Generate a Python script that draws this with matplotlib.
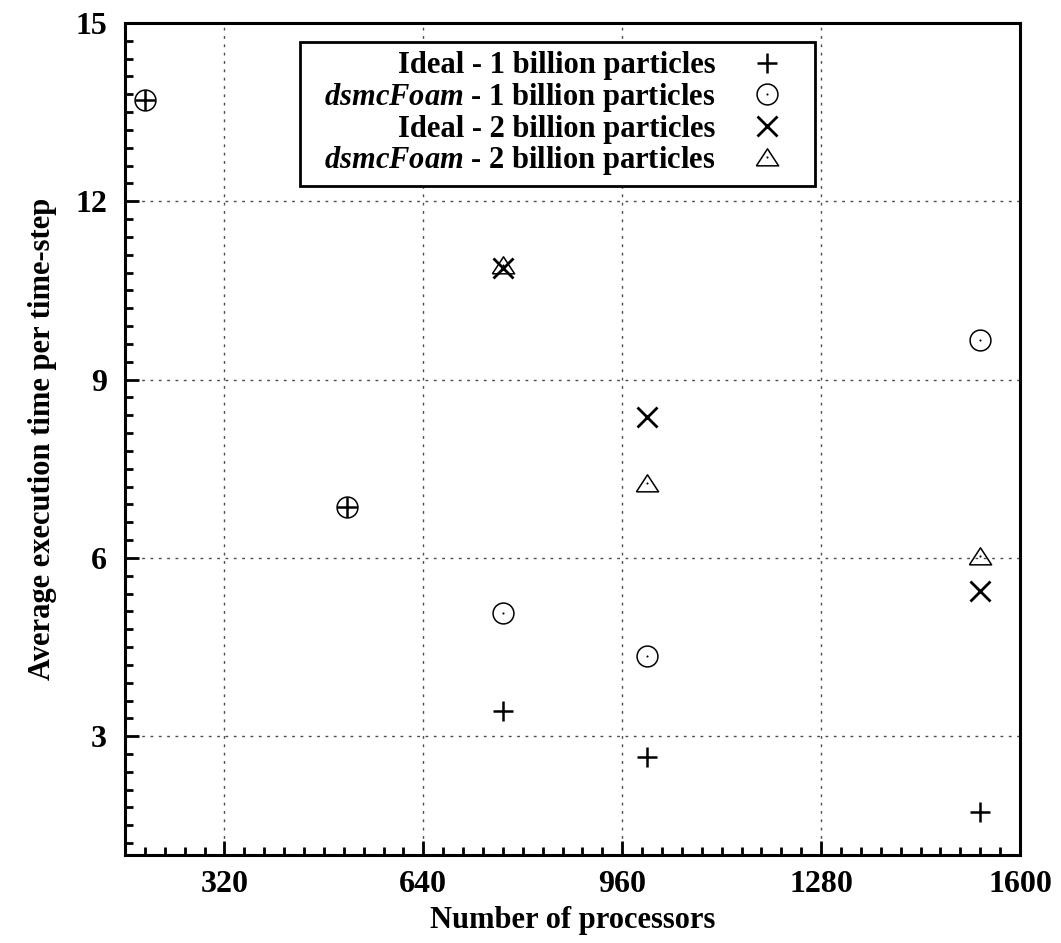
import numpy as np
import matplotlib.pyplot as plt
from matplotlib.legend_handler import HandlerTuple

plt.rcParams['font.family'] = 'Liberation Serif'
plt.rcParams['font.weight'] = 'bold'
plt.rcParams['axes.labelweight'] = 'bold'
plt.rcParams['mathtext.fontset'] = 'custom'
plt.rcParams['mathtext.it'] = 'Liberation Serif:italic'
plt.rcParams['mathtext.rm'] = 'Liberation Serif:bold'

# processors
procs_1b = [192, 518, 768, 1000, 1536]
procs_2b = [768, 1000, 1536]

# average execution time per time-step
ideal_1b = [13.70, 6.85, 3.43, 2.65, 1.72]
dsmc_1b = [13.70, 6.85, 5.08, 4.35, 9.67]
ideal_2b = [10.87, 8.37, 5.44]
dsmc_2b = [10.92, 7.26, 6.03]

labels = ['Ideal - 1 billion particles',
          r'  $\mathit{dsmcFoam}$ - 1 billion particles',
          'Ideal - 2 billion particles',
          r'  $\mathit{dsmcFoam}$ - 2 billion particles']

tri = [(-1.0, -0.75), (1.0, -0.75), (0.0, 0.78), (-1.0, -0.75)]

fig = plt.figure(figsize=(10.61, 9.43), dpi=100)
ax = fig.add_axes([0.1178, 0.0933, 0.8435, 0.8823])

h1, = ax.plot(procs_1b, ideal_1b, ls='none', marker='+', ms=14, mew=1.8, color='k', zorder=3)
h2a, = ax.plot(procs_1b, dsmc_1b, ls='none', marker='o', ms=15, mew=1.1, mfc='none', color='k', zorder=3)
h2b, = ax.plot(procs_1b, dsmc_1b, ls='none', marker='o', ms=1.5, mew=0, color='k', zorder=3)
h3, = ax.plot(procs_2b, ideal_2b, ls='none', marker='x', ms=15, mew=2.0, color='k', zorder=3)
h4a, = ax.plot(procs_2b, dsmc_2b, ls='none', marker=tri, ms=16, mew=1.1, mfc='none', color='k', zorder=3)
h4b, = ax.plot(procs_2b, dsmc_2b, ls='none', marker='o', ms=1.5, mew=0, color='k', zorder=3)

ax.set_xlim(160, 1600)
ax.set_ylim(1, 15)
ax.set_xticks([320, 640, 960, 1280, 1600])
ax.set_xticks(np.arange(192, 1600, 32), minor=True)
ax.set_yticks([3, 6, 9, 12, 15])
ax.set_yticks(np.arange(1.2, 15, 0.3), minor=True)
ax.tick_params(which='both', direction='in', top=False, right=False)
ax.tick_params(which='major', length=10, width=2, labelsize=23)
ax.tick_params(axis='x', which='major', pad=11)
ax.tick_params(axis='y', which='major', pad=13)
ax.tick_params(which='minor', length=6, width=2)
ax.grid(True, which='major', color='0.3', ls=(0, (2, 4)), lw=1)
for s in ax.spines.values():
    s.set_linewidth(2.2)

ax.set_xlabel('Number of processors', fontsize=22, labelpad=5)
ax.set_ylabel('Average execution time per time-step', fontsize=22, labelpad=13)

leg = ax.legend([h1, (h2a, h2b), h3, (h4a, h4b)], labels,
                handler_map={tuple: HandlerTuple(ndivide=1)},
                loc='upper center', bbox_to_anchor=(0.483, 0.977), borderaxespad=0,
                markerfirst=False, fancybox=False, edgecolor='k', framealpha=1,
                fontsize=22, labelspacing=0.02, handlelength=2.5, handletextpad=0.45,
                borderpad=0.3)
leg.get_frame().set_linewidth(2)

fig.savefig('out.png', dpi=100)
